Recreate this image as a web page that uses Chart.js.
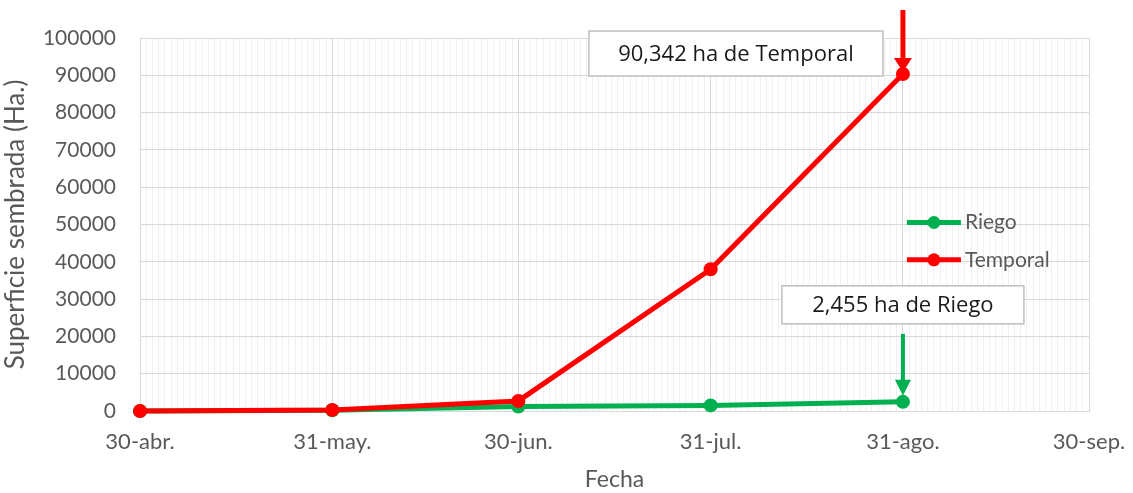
<!DOCTYPE html>
<html>
<head>
<meta charset="utf-8">
<script src="https://cdn.jsdelivr.net/npm/chart.js@4/dist/chart.umd.min.js"></script>
<style>
html,body{margin:0;padding:0;background:#fff;}
#wrap{width:1133px;height:493px;position:relative;}
</style>
</head>
<body>
<div id="wrap"><canvas id="c" width="1133" height="493"></canvas></div>
<script>
// ---- data ----
const startDate = '2020-04-30';
const pointDates = ['2020-04-30', '2020-05-31', '2020-06-30', '2020-07-31', '2020-08-31'];
const riegoValues = [0, 200, 1200, 1500, 2455];
const temporalValues = [0, 300, 2700, 38000, 90342];
const tickDates = ['2020-04-30', '2020-05-31', '2020-06-30', '2020-07-31', '2020-08-31', '2020-09-30'];
const tickLabels = ['30-abr.', '31-may.', '30-jun.', '31-jul.', '31-ago.', '30-sep.'];
const seriesNames = ['Riego', 'Temporal'];
const annotationTexts = ['2,455 ha de Riego', '90,342 ha de Temporal'];

const DAY = 86400000;
const dayOf = d => Math.round((Date.parse(d + 'T00:00:00Z') - Date.parse(startDate + 'T00:00:00Z')) / DAY);
const pointDays = pointDates.map(dayOf);
const tickDays = tickDates.map(dayOf);
const xMax = tickDays[tickDays.length - 1];

const GREEN = '#00B050';
const RED = '#FF0000';
const AXIS_TEXT = '#595959';

const annotPlugin = {
  id: 'annot',
  afterDraw(chart) {
    const ctx = chart.ctx;
    const xs = chart.scales.x, ys = chart.scales.y;
    // ---- legend inside plot ----
    const lx = xs.getPixelForValue(pointDays[4]);
    const legY = [ys.getPixelForValue(50000), ys.getPixelForValue(40000)];
    chart.data.datasets.forEach((ds, i) => {
      const y = legY[i] - 2;
      ctx.save();
      ctx.strokeStyle = ds.borderColor;
      ctx.lineWidth = 5;
      ctx.beginPath();
      ctx.moveTo(lx + 4, y);
      ctx.lineTo(lx + 58, y);
      ctx.stroke();
      ctx.fillStyle = ds.borderColor;
      ctx.beginPath();
      ctx.arc(lx + 31, y, 6.5, 0, Math.PI * 2);
      ctx.fill();
      ctx.fillStyle = AXIS_TEXT;
      ctx.font = '21px Lato';
      ctx.textBaseline = 'middle';
      ctx.textAlign = 'left';
      ctx.fillText(ds.label, lx + 62, y);
      ctx.restore();
    });

    // ---- annotations ----
    const drawArrow = (x, y0, yBase, yTip, color, lw, hw) => {
      ctx.save();
      ctx.strokeStyle = color;
      ctx.fillStyle = color;
      ctx.lineWidth = lw;
      ctx.beginPath();
      ctx.moveTo(x, y0);
      ctx.lineTo(x, yBase + 2);
      ctx.stroke();
      ctx.beginPath();
      ctx.moveTo(x - hw, yBase);
      ctx.lineTo(x + hw, yBase);
      ctx.lineTo(x, yTip);
      ctx.closePath();
      ctx.fill();
      ctx.restore();
    };
    const drawBox = (l, t, w, h, text) => {
      ctx.save();
      ctx.fillStyle = '#ffffff';
      ctx.fillRect(l, t, w, h);
      ctx.strokeStyle = '#bfbfbf';
      ctx.lineWidth = 1.5;
      ctx.strokeRect(l, t, w, h);
      ctx.fillStyle = '#1a1a1a';
      ctx.font = '22px "Open Sans"';
      ctx.textAlign = 'center';
      ctx.textBaseline = 'middle';
      ctx.fillText(text, l + w / 2, t + h / 2 + 1);
      ctx.restore();
    };
    // Temporal
    const tx = xs.getPixelForValue(pointDays[4]);
    const ty = ys.getPixelForValue(temporalValues[4]);
    drawArrow(tx, ty - 64, ty - 16, ty - 2, RED, 5, 9);
    drawBox(tx - 314, ty - 43, 294, 45, annotationTexts[1]);
    // Riego
    const gx = xs.getPixelForValue(pointDays[4]);
    const gy = ys.getPixelForValue(riegoValues[4]);
    drawArrow(gx, gy - 68, gy - 22, gy - 6, GREEN, 4, 8);
    drawBox(gx - 121, gy - 116, 242, 38, annotationTexts[0]);
  }
};

const chart = new Chart(document.getElementById('c'), {
  type: 'line',
  data: {
    datasets: [
      {
        label: seriesNames[0],
        data: pointDays.map((d, i) => ({x: d, y: riegoValues[i]})),
        borderColor: GREEN, backgroundColor: GREEN,
        borderWidth: 5, pointRadius: 7, pointHoverRadius: 7,
        pointBorderWidth: 0, tension: 0, order: 1, clip: false
      },
      {
        label: seriesNames[1],
        data: pointDays.map((d, i) => ({x: d, y: temporalValues[i]})),
        borderColor: RED, backgroundColor: RED,
        borderWidth: 5, pointRadius: 7, pointHoverRadius: 7,
        pointBorderWidth: 0, tension: 0, order: 0, clip: false
      }
    ]
  },
  options: {
    responsive: false,
    animation: false,
    events: [],
    layout: {padding: {left: 0, right: 1133 - 1089, top: 38, bottom: 0}},
    plugins: {legend: {display: false}, tooltip: {enabled: false}},
    scales: {
      x: {
        type: 'linear', min: 0, max: xMax,
        afterFit(s) { s.height = 82; s.paddingLeft = 0; s.paddingRight = 0; },
        ticks: {
          stepSize: 1, autoSkip: false, maxRotation: 0, minRotation: 0,
          padding: 18, color: AXIS_TEXT, font: {family: 'Lato', size: 22},
          callback: v => { const k = tickDays.indexOf(v); return k >= 0 ? tickLabels[k] : ''; }
        },
        grid: {
          drawTicks: false,
          color: c => tickDays.includes(c.tick && c.tick.value) ? '#d9d9d9' : '#f0f0f0',
          lineWidth: 1
        },
        border: {color: '#d9d9d9', width: 1},
        title: {display: true, text: 'Fecha', color: AXIS_TEXT, font: {family: 'Lato', size: 23}, padding: {top: 8, bottom: 0}}
      },
      y: {
        min: 0, max: 100000,
        afterFit(s) { s.width = 140; s.paddingTop = 0; s.paddingBottom = 0; },
        ticks: {stepSize: 10000, padding: 24, color: AXIS_TEXT, font: {family: 'Lato', size: 21}, callback: v => String(v)},
        grid: {drawTicks: false, color: '#d9d9d9', lineWidth: 1},
        border: {color: '#d9d9d9', width: 1},
        title: {display: true, text: 'Superficie sembrada (Ha.)', color: AXIS_TEXT, font: {family: 'Lato', size: 26}, padding: {top: 0, bottom: 0}}
      }
    }
  },
  plugins: [annotPlugin]
});
</script>
</body>
</html>
